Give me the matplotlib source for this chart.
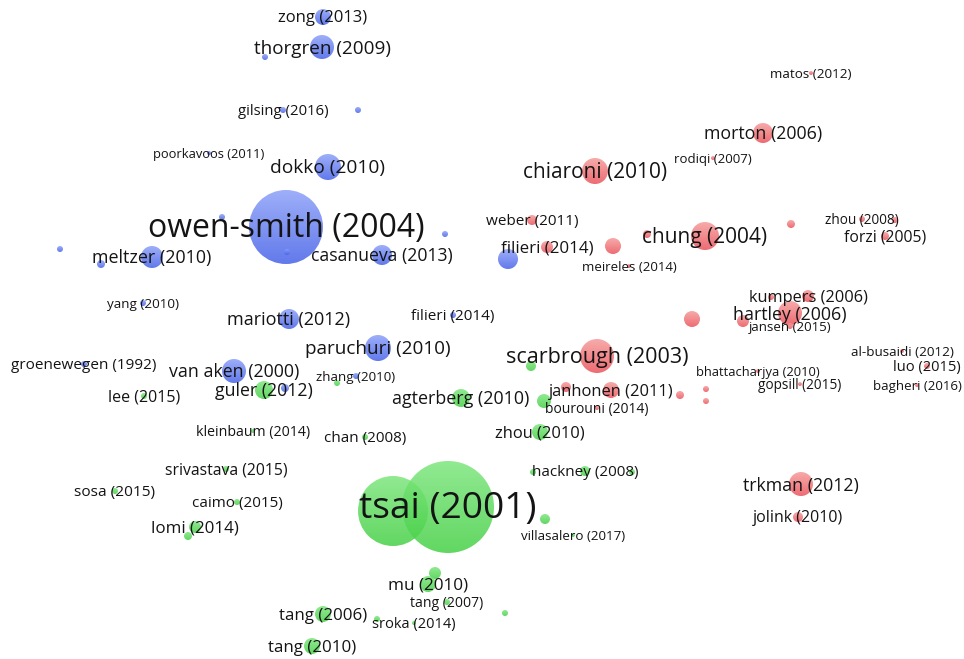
import numpy as np
import matplotlib
matplotlib.use("Agg")
import matplotlib.pyplot as plt
from matplotlib.patches import Circle

# ---- data (map coordinates, node weight radius, cluster) ----
blue_labels = ["zong (2013)", "thorgren (2009)", "", "gilsing (2016)", "", "poorkavoos (2011)",
               "dokko (2010)", "owen-smith (2004)", "", "", "", "", "meltzer (2010)", "",
               "casanueva (2013)", "", "yang (2010)", "mariotti (2012)", "filieri (2014)",
               "paruchuri (2010)", "groenewegen (1992)", "van aken (2000)", "zhang (2010)", ""]
blue_x = [323, 322, 265, 283, 358, 209, 328, 286, 222, 445, 60, 287, 152, 101, 382, 508, 143, 289, 453, 378, 84, 234, 356, 285]
blue_y = [17, 47, 57, 110, 110, 153, 167, 227, 217, 234, 249, 252, 257, 264, 255, 259, 303, 319, 315, 348, 364, 371, 376, 388]
blue_w = [8, 12, 3, 3, 3, 2, 13, 37, 3, 3, 3, 3, 11, 4, 10, 10, 3, 10, 3, 13, 3, 12, 3, 4]
blue_pt = [12, 13.6, 0, 10.7, 0, 9.3, 13.8, 23, 0, 0, 0, 0, 12.9, 0, 12.7, 0, 9.7, 13, 11, 13.6, 11, 12.8, 9.6, 0]

green_labels = ["guler (2012)", "", "lee (2015)", "agterberg (2010)", "", "", "kleinbaum (2014)",
                "chan (2008)", "zhou (2010)", "srivastava (2015)", "hackney (2008)", "", "",
                "sosa (2015)", "", "tsai (2001)", "", "caimo (2015)", "villasalero (2017)",
                "lomi (2014)", "", "", "mu (2010)", "tang (2007)", "", "tang (2006)", "",
                "sroka (2014)", "tang (2010)"]
green_x = [264, 337, 144, 461, 531, 544, 253, 365, 540, 226, 585, 533, 632, 115, 393, 448, 545, 237, 573, 195, 188, 435, 428, 447, 505, 323, 377, 414, 312]
green_y = [390, 383, 396, 398, 366, 401, 431, 437, 432, 469, 471, 472, 472, 491, 511, 507, 519, 502, 535, 527, 536, 573, 584, 602, 613, 614, 619, 623, 646]
green_w = [9, 3, 3, 9, 5, 7, 2, 3, 8, 3, 5, 3, 3, 3, 35, 46, 5, 3, 2, 6, 4, 6, 8, 3, 3, 8, 3, 2, 8]
green_pt = [12.8, 0, 11.5, 12.9, 0, 0, 10.2, 11, 11.9, 11.3, 11, 0, 0, 11.1, 0, 26.7, 0, 11, 9.6, 12.2, 0, 0, 12.3, 10.1, 0, 12.2, 0, 10.5, 12.2]

red_labels = ["matos (2012)", "morton (2006)", "rodiqi (2007)", "chiaroni (2010)", "weber (2011)", "",
              "zhou (2008)", "", "forzi (2005)", "filieri (2014)", "", "", "chung (2004)",
              "meireles (2014)", "kumpers (2006)", "", "hartley (2006)", "", "", "jansen (2015)",
              "scarbrough (2003)", "", "janhonen (2011)", "", "", "", "bourouni (2014)",
              "bhattacharjya (2010)", "gopsill (2015)", "al-busaidi (2012)", "luo (2015)",
              "bagheri (2016)", "trkman (2012)", "jolink (2010)"]
red_x = [811, 763, 713, 595, 532, 791, 862, 895, 885, 547, 613, 647, 705, 629, 808, 771, 790, 743, 692, 790, 597, 566, 611, 680, 706, 706, 597, 758, 800, 902, 927, 917, 801, 798]
red_y = [73, 133, 158, 171, 220, 224, 219, 220, 236, 247, 246, 234, 236, 266, 296, 297, 313, 321, 319, 326, 356, 387, 390, 395, 389, 401, 408, 371, 384, 351, 366, 385, 484, 517]
red_w = [2, 10, 2, 13, 5, 4, 3, 3, 4, 6, 8, 4, 14, 2, 6, 3, 12, 6, 8, 3, 17, 5, 8, 4, 3, 3, 2, 2, 2, 2, 3, 2, 12, 5]
red_pt = [9.7, 12.8, 9.5, 15, 11, 0, 9.8, 0, 11.3, 12.2, 0, 0, 15, 9.5, 11.8, 0, 12.8, 0, 0, 9.5, 15.5, 0, 11.9, 0, 0, 0, 10, 9.3, 9.8, 9.7, 10.5, 9.5, 12.8, 11.5]

clusters = {
    "blue": (blue_labels, blue_x, blue_y, blue_w, blue_pt, (140, 160, 248), (70, 98, 232)),
    "green": (green_labels, green_x, green_y, green_w, green_pt, (125, 230, 125), (70, 208, 70)),
    "red": (red_labels, red_x, red_y, red_w, red_pt, (246, 155, 155), (234, 82, 90)),
}

W, H = 964, 659
fig = plt.figure(figsize=(W / 100, H / 100), dpi=100)
ax = fig.add_axes([0, 0, 1, 1])
ax.set_xlim(0, W)
ax.set_ylim(H, 0)
ax.set_aspect("equal")
ax.axis("off")


def grad(top, bot, n=64):
    t = np.linspace(0, 1, n)[:, None]
    top = np.array(top) / 255.0
    bot = np.array(bot) / 255.0
    rgb = top[None, :] * (1 - t) + bot[None, :] * t
    return rgb[:, None, :]


z = 1
for name, (labels, xs, ys, ws, pts, ctop, cbot) in clusters.items():
    g = grad(ctop, cbot)
    for x, y, r in zip(xs, ys, ws):
        c = Circle((x, y), r, transform=ax.transData, facecolor="none", edgecolor="none")
        ax.add_patch(c)
        im = ax.imshow(g, extent=[x - r, x + r, y + r, y - r], aspect="auto",
                       alpha=0.85, zorder=z, interpolation="bilinear")
        im.set_clip_path(c)
        z += 0.001

ax.set_xlim(0, W)
ax.set_ylim(H, 0)

for name, (labels, xs, ys, ws, pts, ctop, cbot) in clusters.items():
    for lab, x, y, p in zip(labels, xs, ys, pts):
        if lab:
            ax.text(x, y + 1.5, lab, ha="center", va="center", fontsize=p,
                    family=["Open Sans", "DejaVu Sans"], color="#141414", zorder=10)

fig.savefig("out.png", dpi=100, facecolor="white")
